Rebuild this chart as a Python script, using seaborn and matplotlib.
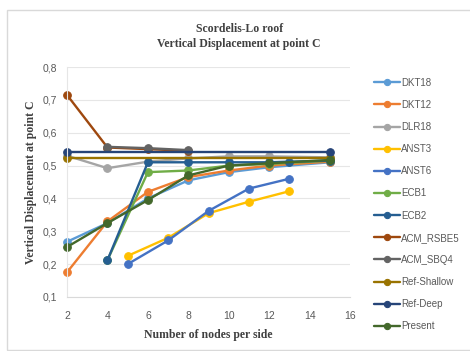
import pandas as pd
import numpy as np
import matplotlib
matplotlib.use("Agg")
import matplotlib.pyplot as plt
import matplotlib.ticker as mticker
from matplotlib.patches import Rectangle
import seaborn as sns

# --- data ---
methods = ["DKT18", "DKT12", "DLR18", "ANST3", "ANST6", "ECB1", "ECB2",
           "ACM_RSBE5", "ACM_SBQ4", "Ref-Shallow", "Ref-Deep", "Present"]
colors = ["#5B9BD5", "#ED7D31", "#A5A5A5", "#FFC000", "#4472C4", "#70AD47",
          "#255E91", "#9E480E", "#636363", "#997300", "#264478", "#43682B"]

dkt18_x = [2, 4, 6, 8, 10, 12, 15]
dkt18_y = [0.268, 0.325, 0.400, 0.455, 0.480, 0.495, 0.510]
dkt12_x = [2, 4, 6, 8, 10, 12, 15]
dkt12_y = [0.175, 0.330, 0.420, 0.465, 0.485, 0.500, 0.512]
dlr18_x = [2, 4, 6, 8, 10, 12, 15]
dlr18_y = [0.530, 0.492, 0.512, 0.522, 0.528, 0.528, 0.525]
anst3_x = [5, 7, 9, 11, 13]
anst3_y = [0.225, 0.280, 0.355, 0.390, 0.422]
anst6_x = [5, 7, 9, 11, 13]
anst6_y = [0.200, 0.272, 0.362, 0.430, 0.460]
ecb1_x = [4, 6, 8, 10, 12, 15]
ecb1_y = [0.212, 0.480, 0.485, 0.500, 0.505, 0.515]
ecb2_x = [4, 6, 8, 10, 12, 13, 15]
ecb2_y = [0.212, 0.510, 0.510, 0.510, 0.510, 0.512, 0.515]
rsbe5_x = [2, 4, 6, 8]
rsbe5_y = [0.715, 0.555, 0.550, 0.545]
sbq4_x = [4, 6, 8]
sbq4_y = [0.557, 0.553, 0.547]
shallow_x = [2, 15]
shallow_y = [0.522, 0.522]
deep_x = [2, 15]
deep_y = [0.540, 0.540]
present_x = [2, 4, 6, 8, 10, 12, 15]
present_y = [0.252, 0.325, 0.395, 0.470, 0.500, 0.507, 0.517]

series_x = [dkt18_x, dkt12_x, dlr18_x, anst3_x, anst6_x, ecb1_x, ecb2_x,
            rsbe5_x, sbq4_x, shallow_x, deep_x, present_x]
series_y = [dkt18_y, dkt12_y, dlr18_y, anst3_y, anst6_y, ecb1_y, ecb2_y,
            rsbe5_y, sbq4_y, shallow_y, deep_y, present_y]

frames = []
for name, xs, ys in zip(methods, series_x, series_y):
    frames.append(pd.DataFrame({"method": name, "nodes": xs, "disp": ys}))
df = pd.concat(frames, ignore_index=True)

sns.set_style("white")
serif = ["Liberation Serif", "DejaVu Serif"]
sans = ["Liberation Sans", "DejaVu Sans"]
TICK_COLOR = "#595959"

fig = plt.figure(figsize=(4.7, 3.51), dpi=100)
ax = fig.add_axes([0.1426, 0.154, 0.6024, 0.655])

sns.lineplot(data=df, x="nodes", y="disp", hue="method", hue_order=methods,
             palette=dict(zip(methods, colors)), marker="o", markersize=5.5,
             linewidth=1.7, sort=True, estimator=None, ax=ax, legend=True)
for line in ax.lines:
    line.set_markeredgecolor(line.get_color())

ax.set_xlim(2, 16)
ax.set_ylim(0.1, 0.8)
ax.set_xticks(np.arange(2, 17, 2))
ax.set_yticks(np.arange(0.1, 0.81, 0.1))
ax.yaxis.set_major_formatter(mticker.FuncFormatter(lambda v, p: f"{v:.1f}".replace(".", ",")))
ax.tick_params(axis="y", length=0, labelsize=7.5, colors=TICK_COLOR, pad=7)
ax.tick_params(axis="x", length=0, labelsize=7.5, colors=TICK_COLOR, pad=10)
for lbl in ax.get_xticklabels() + ax.get_yticklabels():
    lbl.set_family(sans)
ax.grid(axis="y", color="#E6E6E6", linewidth=0.8)
ax.set_axisbelow(True)
for side in ["top", "right"]:
    ax.spines[side].set_visible(False)
ax.spines["left"].set_color("#E6E6E6")
ax.spines["bottom"].set_color("#D9D9D9")
for line in ax.lines:
    line.set_clip_on(False)

ax.set_xlabel("Number of nodes per side", family=serif, fontweight="bold",
              fontsize=8.5, color="#404040", labelpad=6)
ax.set_ylabel("Vertical Displacement at point C", family=serif, fontweight="bold",
              fontsize=8.5, color="#404040", labelpad=4)

fig.text(0.509, 0.897, "Scordelis-Lo roof\nVertical Displacement at point C",
         ha="center", va="center", family=serif, fontweight="bold",
         fontsize=8.5, color="#404040", linespacing=1.35)

handles, labels = ax.get_legend_handles_labels()
ax.get_legend().remove()
leg = fig.legend(handles, labels, loc="upper left", bbox_to_anchor=(0.787, 0.79),
                 frameon=False, fontsize=7, labelspacing=1.25, handlelength=2.7,
                 handletextpad=0.1, borderaxespad=0)
for txt in leg.get_texts():
    txt.set_color(TICK_COLOR)
    txt.set_family(sans)
for h in leg.legend_handles:
    h.set_markeredgecolor(h.get_color())
    h.set_markersize(4.5)

fig.patches.append(Rectangle((7 / 470, 0.002), 1.0, 1 - 10 / 351 - 0.002,
                             transform=fig.transFigure, fill=False,
                             edgecolor="#D9D9D9", linewidth=1))

fig.savefig("out.png", dpi=100, facecolor="white")
